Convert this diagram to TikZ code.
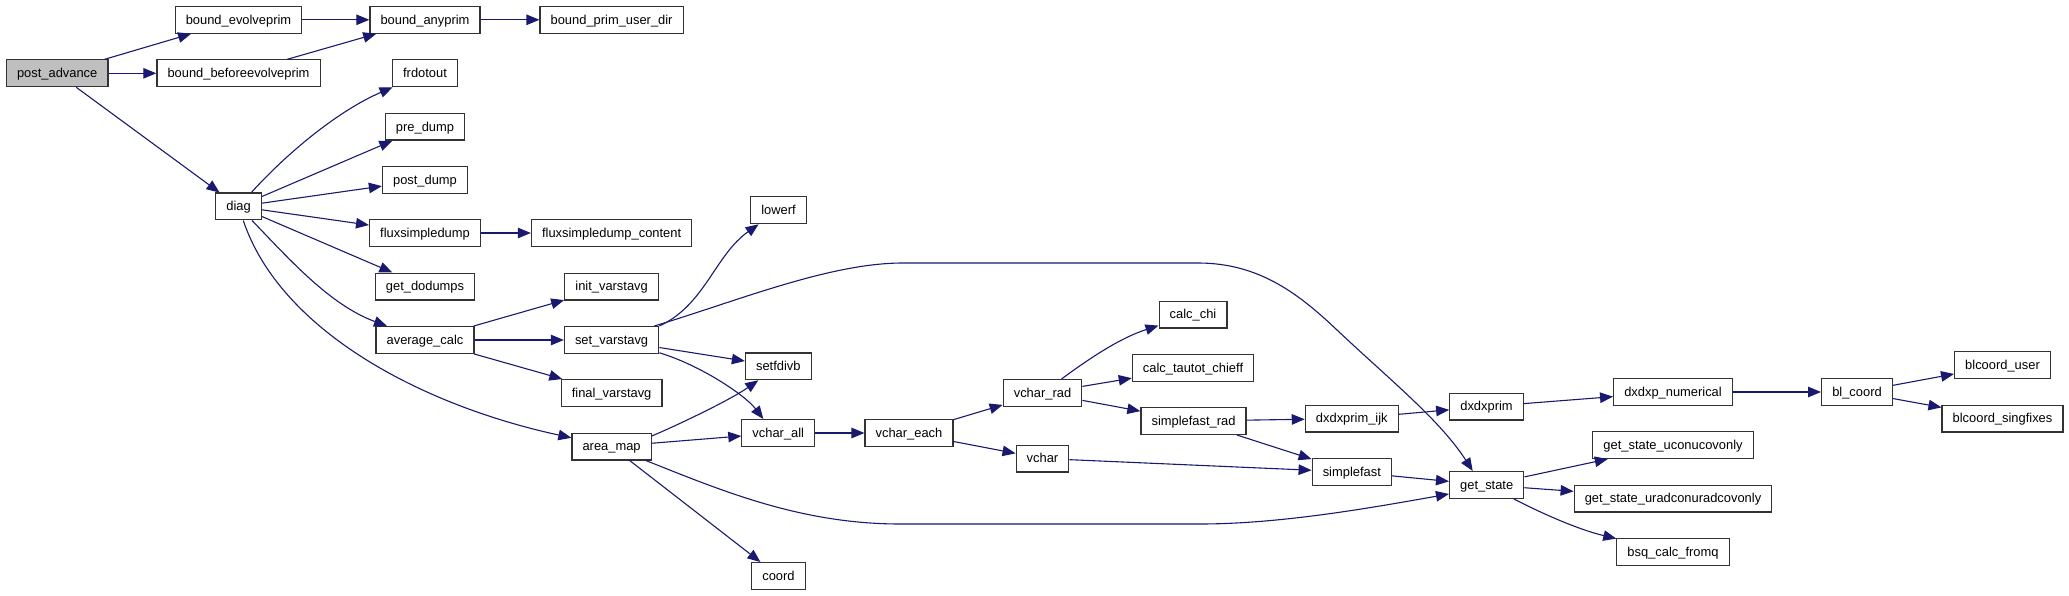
\documentclass[tikz,border=0pt]{standalone}
\usepackage{fontspec}
\newfontfamily\lsans{Liberation Sans}
\usetikzlibrary{arrows.meta,calc}
\definecolor{edgeblue}{HTML}{191970}
\definecolor{rootgray}{HTML}{BFBFBF}
\begin{document}
\begin{tikzpicture}[x=1pt,y=-1pt,
  fn/.style={draw=black!80, line width=1.2pt, fill=white, rectangle, inner xsep=10.6pt, inner ysep=0pt,
    minimum height=26.8pt, text height=10pt, text depth=1.2pt,
    font=\lsans\fontsize{12.9}{14}\selectfont, text=black},
  root/.style={fn, fill=rootgray},
  call/.style={draw=edgeblue, line width=1.1pt, -{Triangle[length=13pt,width=10.5pt]}}
]
\useasboundingbox (0,0) rectangle (2069,596);

% nodes
\node[root] (post_advance) at (57.2,73.3) {post\_advance};
\node[fn] (bound_evolveprim) at (238.5,19.8) {bound\_evolveprim};
\node[fn] (bound_beforeevolveprim) at (238.5,73.3) {bound\_beforeevolveprim};
\node[fn] (diag) at (238.6,206.5) {diag};
\node[fn] (bound_anyprim) at (425,19.8) {bound\_anyprim};
\node[fn] (frdotout) at (425,73.3) {frdotout};
\node[fn] (pre_dump) at (425,126.7) {pre\_dump};
\node[fn] (post_dump) at (425,180) {post\_dump};
\node[fn] (fluxsimpledump) at (425,233) {fluxsimpledump};
\node[fn] (get_dodumps) at (425,286.5) {get\_dodumps};
\node[fn] (average_calc) at (425,340) {average\_calc};
\node[fn] (bound_prim_user_dir) at (611.6,19.8) {bound\_prim\_user\_dir};
\node[fn] (fluxsimpledump_content) at (611.6,233) {fluxsimpledump\_content};
\node[fn] (init_varstavg) at (611.6,286.5) {init\_varstavg};
\node[fn] (set_varstavg) at (611.6,340) {set\_varstavg};
\node[fn] (final_varstavg) at (611.6,393) {final\_varstavg};
\node[fn] (area_map) at (611.6,446.5) {area\_map};
\node[fn] (lowerf) at (778.5,210.3) {lowerf};
\node[fn] (setfdivb) at (778.3,366.3) {setfdivb};
\node[fn] (vchar_all) at (778.3,433) {vchar\_all};
\node[fn] (coord) at (778.5,576) {coord};
\node[fn] (vchar_each) at (909,433) {vchar\_each};
\node[fn] (vchar_rad) at (1042.5,393) {vchar\_rad};
\node[fn] (vchar) at (1042.5,458.5) {vchar};
\node[fn] (calc_chi) at (1193,314.5) {calc\_chi};
\node[fn] (calc_tautot_chieff) at (1193,368) {calc\_tautot\_chieff};
\node[fn] (simplefast_rad) at (1193.5,421) {simplefast\_rad};
\node[fn] (dxdxprim_ijk) at (1351.8,418.5) {dxdxprim\_ijk};
\node[fn] (simplefast) at (1351.8,472) {simplefast};
\node[fn] (dxdxprim) at (1486.5,406.5) {dxdxprim};
\node[fn] (get_state) at (1486.7,485) {get\_state};
\node[fn] (dxdxp_numerical) at (1673,392) {dxdxp\_numerical};
\node[fn] (get_state_uconucovonly) at (1673,445) {get\_state\_uconucovonly};
\node[fn] (get_state_uradconuradcovonly) at (1673,498.5) {get\_state\_uradconuradcovonly};
\node[fn] (bsq_calc_fromq) at (1673,552) {bsq\_calc\_fromq};
\node[fn] (bl_coord) at (1857,392) {bl\_coord};
\node[fn] (blcoord_user) at (2002.5,365) {blcoord\_user};
\node[fn] (blcoord_singfixes) at (2002.5,418.5) {blcoord\_singfixes};

% straight calls
\draw[call] (post_advance) -- (bound_evolveprim);
\draw[call] (post_advance) -- (bound_beforeevolveprim);
\draw[call] (post_advance) -- (diag);
\draw[call] (bound_evolveprim) -- (bound_anyprim);
\draw[call] (bound_beforeevolveprim) -- (bound_anyprim);
\draw[call] (bound_anyprim) -- (bound_prim_user_dir);
\draw[call] (diag) -- (pre_dump);
\draw[call] (diag) -- (post_dump);
\draw[call] (diag) -- (fluxsimpledump);
\draw[call] (diag) -- (get_dodumps);
\draw[call] (fluxsimpledump) -- (fluxsimpledump_content);
\draw[call] (average_calc) -- (init_varstavg);
\draw[call] (average_calc) -- (set_varstavg);
\draw[call] (average_calc) -- (final_varstavg);
\draw[call] (set_varstavg) -- (setfdivb);
\draw[call] (area_map) -- (vchar_all);
\draw[call] (area_map) -- (coord);
\draw[call] (vchar_all) -- (vchar_each);
\draw[call] (vchar_each) -- (vchar_rad);
\draw[call] (vchar_each) -- (vchar);
\draw[call] (vchar_rad) -- (calc_tautot_chieff);
\draw[call] (vchar_rad) -- (simplefast_rad);
\draw[call] (simplefast_rad) -- (dxdxprim_ijk);
\draw[call] (simplefast_rad) -- (simplefast);
\draw[call] (vchar) -- (simplefast);
\draw[call] (simplefast) -- (get_state);
\draw[call] (dxdxprim_ijk) -- (dxdxprim);
\draw[call] (dxdxprim) -- (dxdxp_numerical);
\draw[call] (dxdxp_numerical) -- (bl_coord);
\draw[call] (bl_coord) -- (blcoord_user);
\draw[call] (bl_coord) -- (blcoord_singfixes);
\draw[call] (get_state) -- (get_state_uconucovonly);
\draw[call] (get_state) -- (get_state_uradconuradcovonly);

% curved calls
\draw[call] (diag) .. controls (290,150) and (340,110) .. (frdotout);
\draw[call] (diag) .. controls (290,260) and (330,305) .. (average_calc);
\draw[call] (diag) .. controls (280,330) and (420,405) .. (area_map);
\draw[call] (set_varstavg.north east) .. controls (705,305) and (715,255) .. (lowerf);
\draw[call] ($(set_varstavg.north east)+(-5,0)$) .. controls (740,300) and (830,263) .. (903,263)
  -- (1198,263) .. controls (1260,263) and (1300,295) .. (1337,330)
  .. controls (1390,380) and (1440,420) .. ($(get_state.north)+(-14,0)$);
\draw[call] (set_varstavg.-15) .. controls (700,365) and (745,395) .. ($(vchar_all.north)+(-15,0)$);
\draw[call] ($(area_map.north east)+(0,3.5)$) .. controls (680,424) and (730,400) .. ($(setfdivb.south)+(-20,0)$);
\draw[call] ($(area_map.south east)+(-6,0)$) .. controls (720,490) and (800,524) .. (900,524)
  -- (1200,524) .. controls (1280,524) and (1370,508) .. ($(get_state.west)+(0,9)$);
\draw[call] (vchar_rad) .. controls (1090,358) and (1120,338) .. (calc_chi);
\draw[call] (get_state) .. controls (1545,515) and (1580,530) .. (bsq_calc_fromq);
\end{tikzpicture}
\end{document}
